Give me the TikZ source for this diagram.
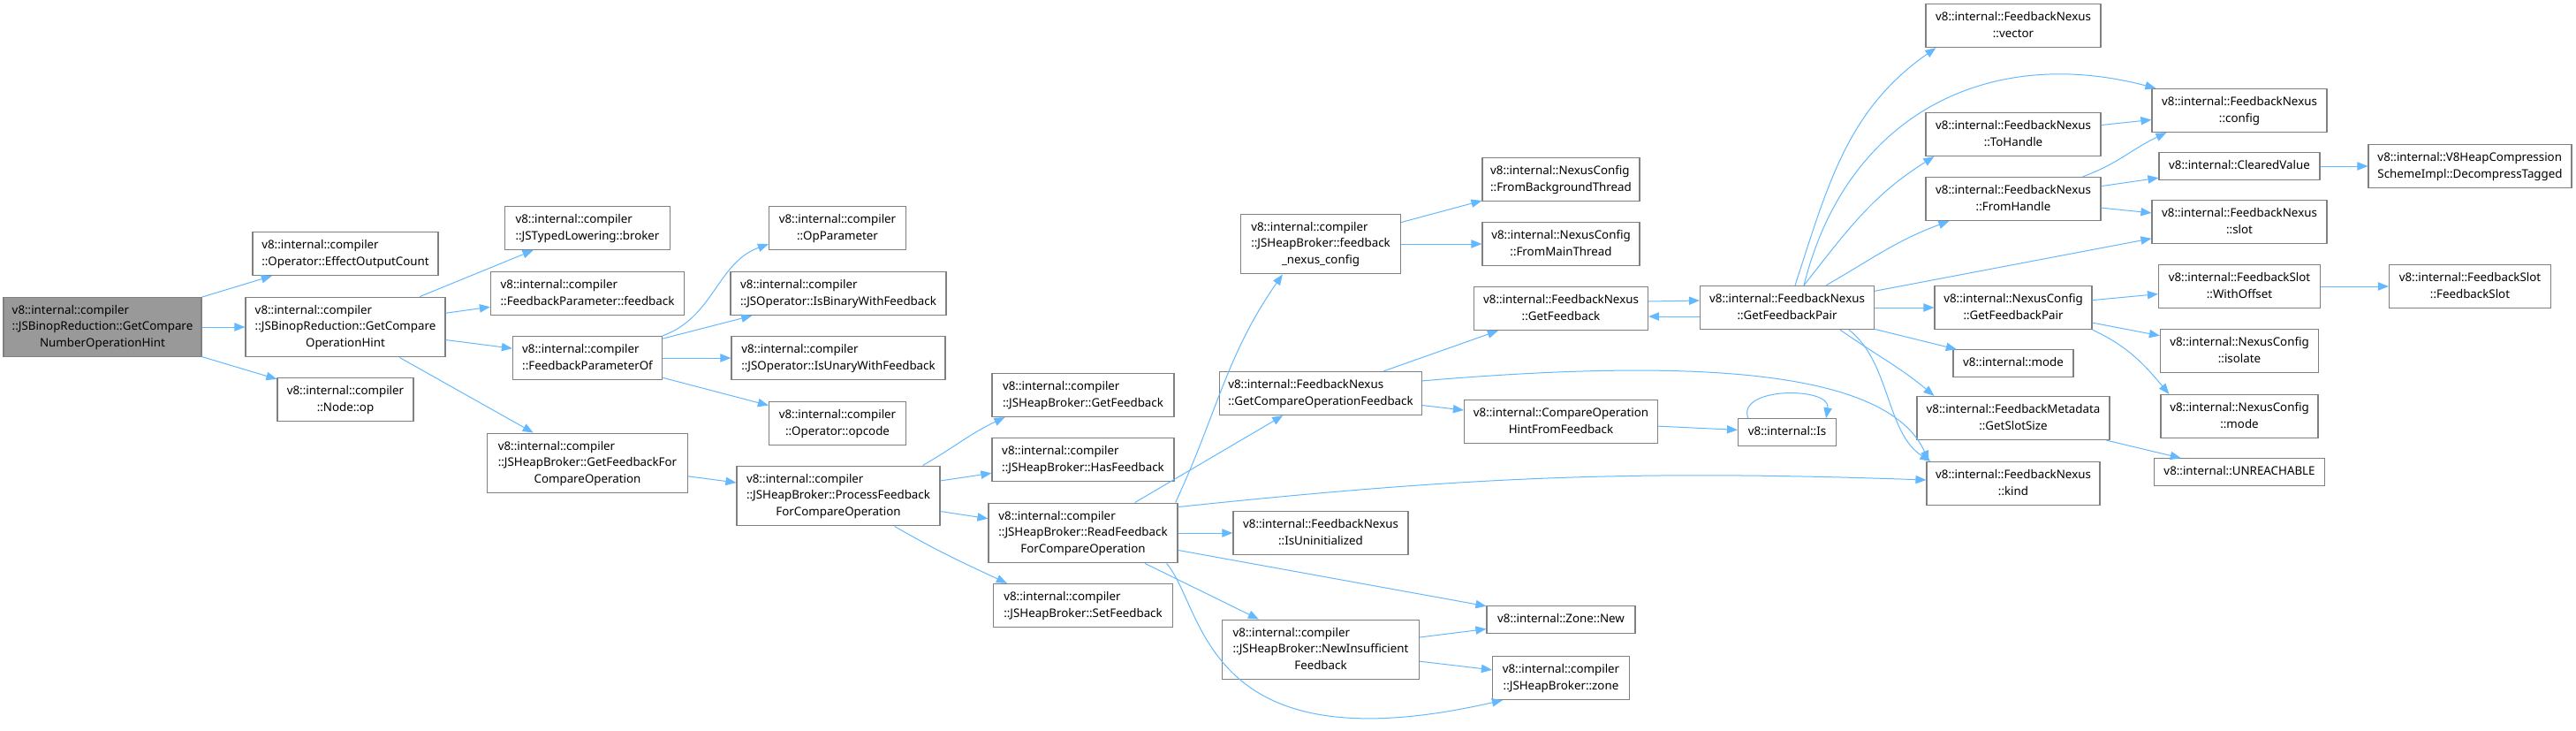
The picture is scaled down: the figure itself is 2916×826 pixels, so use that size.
\documentclass[tikz,border=0pt]{standalone}
\usepackage{fontspec}
\setmainfont{Noto Sans}
\usetikzlibrary{arrows.meta}
\definecolor{boxgray}{HTML}{808080}
\definecolor{rootgray}{HTML}{999999}
\definecolor{edgeblue}{HTML}{63B8FF}
\newcommand{\fname}[1]{\begin{tabular}{@{}l@{}}#1\end{tabular}}
\newcommand{\lastln}[1]{\multicolumn{1}{@{}c@{}}{#1}}
\tikzset{
  box/.style={
    rectangle,
    draw=boxgray,
    line width=0.9pt,
    fill=white,
    inner xsep=0pt,
    inner ysep=4.4pt,
    minimum height=0pt,
    font=\fontsize{10}{14}\selectfont
  },
  rootbox/.style={box, fill=rootgray},
  wd/.style={minimum width=#1*0.75pt},
  arrow/.style={-{Triangle[length=9pt, width=7pt]}, draw=edgeblue, line width=0.75pt}
}

\begin{document}
\begin{tikzpicture}[x=0.75pt, y=0.75pt]
\useasboundingbox (0,0) rectangle (2916,-826);
% callers side
\node[rootbox, wd=224] (root) at (116,-370) {\fname{v8::internal::compiler\\::JSBinopReduction::GetCompare\\\lastln{NumberOperationHint}}};
\node[box, wd=210] (effcount) at (391,-287) {\fname{v8::internal::compiler\\::Operator::EffectOutputCount}};
\node[box, wd=226] (cmphint) at (391,-370) {\fname{v8::internal::compiler\\::JSBinopReduction::GetCompare\\\lastln{OperationHint}}};
\node[box, wd=154] (nodeop) at (391,-452) {\fname{v8::internal::compiler\\\lastln{::Node::op}}};
\node[box, wd=187] (broker) at (665,-258) {\fname{v8::internal::compiler\\::JSTypedLowering::broker}};
\node[box, wd=219] (fbparam) at (665,-332) {\fname{v8::internal::compiler\\::FeedbackParameter::feedback}};
\node[box, wd=169] (fbparamof) at (665,-405) {\fname{v8::internal::compiler\\::FeedbackParameterOf}};
\node[box, wd=227] (getfbcmp) at (665,-524) {\fname{v8::internal::compiler\\::JSHeapBroker::GetFeedbackFor\\\lastln{CompareOperation}}};
\node[box, wd=155] (opparam) at (948,-258) {\fname{v8::internal::compiler\\\lastln{::OpParameter}}};
\node[box, wd=244] (isbinary) at (949,-332) {\fname{v8::internal::compiler\\::JSOperator::IsBinaryWithFeedback}};
\node[box, wd=242] (isunary) at (949,-405) {\fname{v8::internal::compiler\\::JSOperator::IsUnaryWithFeedback}};
\node[box, wd=155] (opcode) at (948,-479) {\fname{v8::internal::compiler\\\lastln{::Operator::opcode}}};
\node[box, wd=230] (procfb) at (949,-561) {\fname{v8::internal::compiler\\::JSHeapBroker::ProcessFeedback\\\lastln{ForCompareOperation}}};
\node[box, wd=206] (getfb) at (1226,-447) {\fname{v8::internal::compiler\\::JSHeapBroker::GetFeedback}};
\node[box, wd=206] (hasfb) at (1226,-520) {\fname{v8::internal::compiler\\::JSHeapBroker::HasFeedback}};
\node[box, wd=214] (readfb) at (1226,-603) {\fname{v8::internal::compiler\\::JSHeapBroker::ReadFeedback\\\lastln{ForCompareOperation}}};
\node[box, wd=203] (setfb) at (1226,-685) {\fname{v8::internal::compiler\\::JSHeapBroker::SetFeedback}};
% feedback nexus side
\node[box, wd=181] (nexuscfg) at (1495,-276) {\fname{v8::internal::compiler\\::JSHeapBroker::feedback\\\lastln{\_nexus\_config}}};
\node[box, wd=229] (cmpopfb) at (1495,-445) {\fname{v8::internal::FeedbackNexus\\::GetCompareOperationFeedback}};
\node[box, wd=198] (isuninit) at (1495,-603) {\fname{v8::internal::FeedbackNexus\\\lastln{::IsUninitialized}}};
\node[box, wd=223] (newinsuff) at (1495,-735) {\fname{v8::internal::compiler\\::JSHeapBroker::NewInsufficient\\\lastln{Feedback}}};
\node[box, wd=178] (frombg) at (1767,-203) {\fname{v8::internal::NexusConfig\\::FromBackgroundThread}};
\node[box, wd=178] (frommain) at (1767,-276) {\fname{v8::internal::NexusConfig\\\lastln{::FromMainThread}}};
\node[box, wd=197] (nxgetfb) at (1767,-349) {\fname{v8::internal::FeedbackNexus\\\lastln{::GetFeedback}}};
\node[box, wd=219] (hintfromfb) at (1767,-477) {\fname{v8::internal::CompareOperation\\\lastln{HintFromFeedback}}};
\node[box, wd=168] (zonenew) at (1767,-701) {\fname{v8::internal::Zone::New}};
\node[box, wd=155] (zone) at (1767,-767) {\fname{v8::internal::compiler\\\lastln{::JSHeapBroker::zone}}};
\node[box, wd=197] (getfbpair) at (2023,-348) {\fname{v8::internal::FeedbackNexus\\\lastln{::GetFeedbackPair}}};
\node[box, wd=111] (is) at (2023,-489) {\fname{v8::internal::Is}};
\node[box, wd=198] (vector) at (2279,-29) {\fname{v8::internal::FeedbackNexus\\\lastln{::vector}}};
\node[box, wd=198] (tohandle) at (2279,-152) {\fname{v8::internal::FeedbackNexus\\\lastln{::ToHandle}}};
\node[box, wd=198] (fromhandle) at (2279,-225) {\fname{v8::internal::FeedbackNexus\\\lastln{::FromHandle}}};
\node[box, wd=178] (ncgetfbpair) at (2279,-348) {\fname{v8::internal::NexusConfig\\\lastln{::GetFeedbackPair}}};
\node[box, wd=136] (mode) at (2279,-411) {\fname{v8::internal::mode}};
\node[box, wd=218] (slotsize) at (2279,-473) {\fname{v8::internal::FeedbackMetadata\\\lastln{::GetSlotSize}}};
\node[box, wd=196] (kind) at (2279,-547) {\fname{v8::internal::FeedbackNexus\\\lastln{::kind}}};
\node[box, wd=198] (config) at (2535,-125) {\fname{v8::internal::FeedbackNexus\\\lastln{::config}}};
\node[box, wd=182] (cleared) at (2535,-188) {\fname{v8::internal::ClearedValue}};
\node[box, wd=198] (slot) at (2535,-251) {\fname{v8::internal::FeedbackNexus\\\lastln{::slot}}};
\node[box, wd=183] (withoffset) at (2535,-324) {\fname{v8::internal::FeedbackSlot\\\lastln{::WithOffset}}};
\node[box, wd=179] (isolate) at (2535,-397) {\fname{v8::internal::NexusConfig\\\lastln{::isolate}}};
\node[box, wd=178] (ncmode) at (2535,-471) {\fname{v8::internal::NexusConfig\\\lastln{::mode}}};
\node[box, wd=193] (unreachable) at (2535,-534) {\fname{v8::internal::UNREACHABLE}};
\node[box, wd=230] (decompress) at (2796,-188) {\fname{v8::internal::V8HeapCompression\\SchemeImpl::DecompressTagged}};
\node[box, wd=183] (fbslot) at (2796,-324) {\fname{v8::internal::FeedbackSlot\\\lastln{::FeedbackSlot}}};

% calls
\draw[arrow] (root) -- (effcount);
\draw[arrow] (root) -- (cmphint);
\draw[arrow] (root) -- (nodeop);
\draw[arrow] (cmphint) -- (broker);
\draw[arrow] (cmphint) -- (fbparam);
\draw[arrow] (cmphint) -- (fbparamof);
\draw[arrow] (cmphint) -- (getfbcmp);
\draw[arrow] (fbparamof.north east) to[out=20, in=200] ([shift={(0,7)}]opparam.south west);
\draw[arrow] (fbparamof) -- (isbinary);
\draw[arrow] (fbparamof) -- (isunary);
\draw[arrow] (fbparamof) -- (opcode);
\draw[arrow] (getfbcmp) -- (procfb);
\draw[arrow] ([shift={(-20,0)}]procfb.north east) to[out=30, in=205] ([shift={(15,0)}]getfb.south west);
\draw[arrow] (procfb) -- (hasfb);
\draw[arrow] (procfb) -- (readfb);
\draw[arrow] ([shift={(-52,0)}]procfb.south east) to[out=-30, in=155] ([shift={(16,0)}]setfb.north west);
\draw[arrow] ([shift={(-3,0)}]readfb.north east) to[out=65, in=235] ([shift={(48,0)}]nexuscfg.south west);
\draw[arrow] (readfb) -- (cmpopfb);
\draw[arrow] ([shift={(0,-5)}]readfb.north east) to[out=6, in=178] ([shift={(0,4)}]kind.west);
\draw[arrow] (readfb) -- (isuninit);
\draw[arrow] (readfb) -- (zonenew);
\draw[arrow] (readfb) -- (newinsuff);
\draw[arrow] ([shift={(-13,0)}]readfb.south east) .. controls (1365,-690) and (1360,-870) .. ([shift={(12,0)}]zone.south west);
\draw[arrow] (nexuscfg) -- (frombg);
\draw[arrow] (nexuscfg) -- (frommain);
\draw[arrow] (cmpopfb) -- (nxgetfb);
\draw[arrow] ([shift={(0,-11)}]cmpopfb.north east) .. controls (1950,-402) and (2140,-425) .. ([shift={(3,0)}]kind.north west);
\draw[arrow] (cmpopfb) -- (hintfromfb);
\draw[arrow] (hintfromfb) -- (is);
\draw[arrow] ([shift={(12,0)}]is.north west) .. controls +(-14,36) and +(6,36) .. ([shift={(-12,0)}]is.north east);
\draw[arrow] ([shift={(0,8)}]nxgetfb.east) -- ([shift={(0,8)}]getfbpair.west);
\draw[arrow] ([shift={(0,-10)}]getfbpair.west) -- ([shift={(0,-9)}]nxgetfb.east);
\draw[arrow] (newinsuff) -- (zonenew);
\draw[arrow] (newinsuff) -- (zone);
% feedback pair
\draw[arrow] ([shift={(9,0)}]getfbpair.north) to[out=72, in=215] ([shift={(12,0)}]vector.south west);
\draw[arrow] ([shift={(19,0)}]getfbpair.north) .. controls (2090,-130) and (2250,-50) .. ([shift={(5,0)}]config.north west);
\draw[arrow] ([shift={(19,0)}]getfbpair.north) to[out=52, in=212] ([shift={(10,0)}]tohandle.south west);
\draw[arrow] ([shift={(44,0)}]getfbpair.north) to[out=30, in=200] ([shift={(27,0)}]fromhandle.south west);
\draw[arrow] (getfbpair) -- (slot);
\draw[arrow] (getfbpair) -- (ncgetfbpair);
\draw[arrow] (getfbpair) -- (mode);
\draw[arrow] ([shift={(60,0)}]getfbpair.south) to[out=-35, in=140] ([shift={(20,0)}]slotsize.north west);
\draw[arrow] ([shift={(70,0)}]getfbpair.south) .. controls (2140,-410) and (2135,-490) .. ([shift={(5,0)}]kind.north west);
\draw[arrow] (tohandle) -- (config);
\draw[arrow] ([shift={(-21,0)}]fromhandle.north east) to[out=20, in=205] ([shift={(17,0)}]config.south west);
\draw[arrow] (fromhandle) -- (cleared);
\draw[arrow] (fromhandle) -- (slot);
\draw[arrow] (cleared) -- (decompress);
\draw[arrow] (ncgetfbpair) -- (withoffset);
\draw[arrow] (ncgetfbpair) -- (isolate);
\draw[arrow] (ncgetfbpair.south east) to[out=-25, in=130] ([shift={(10,0)}]ncmode.north west);
\draw[arrow] (withoffset) -- (fbslot);
\draw[arrow] (slotsize) -- (unreachable);
\end{tikzpicture}
\end{document}
